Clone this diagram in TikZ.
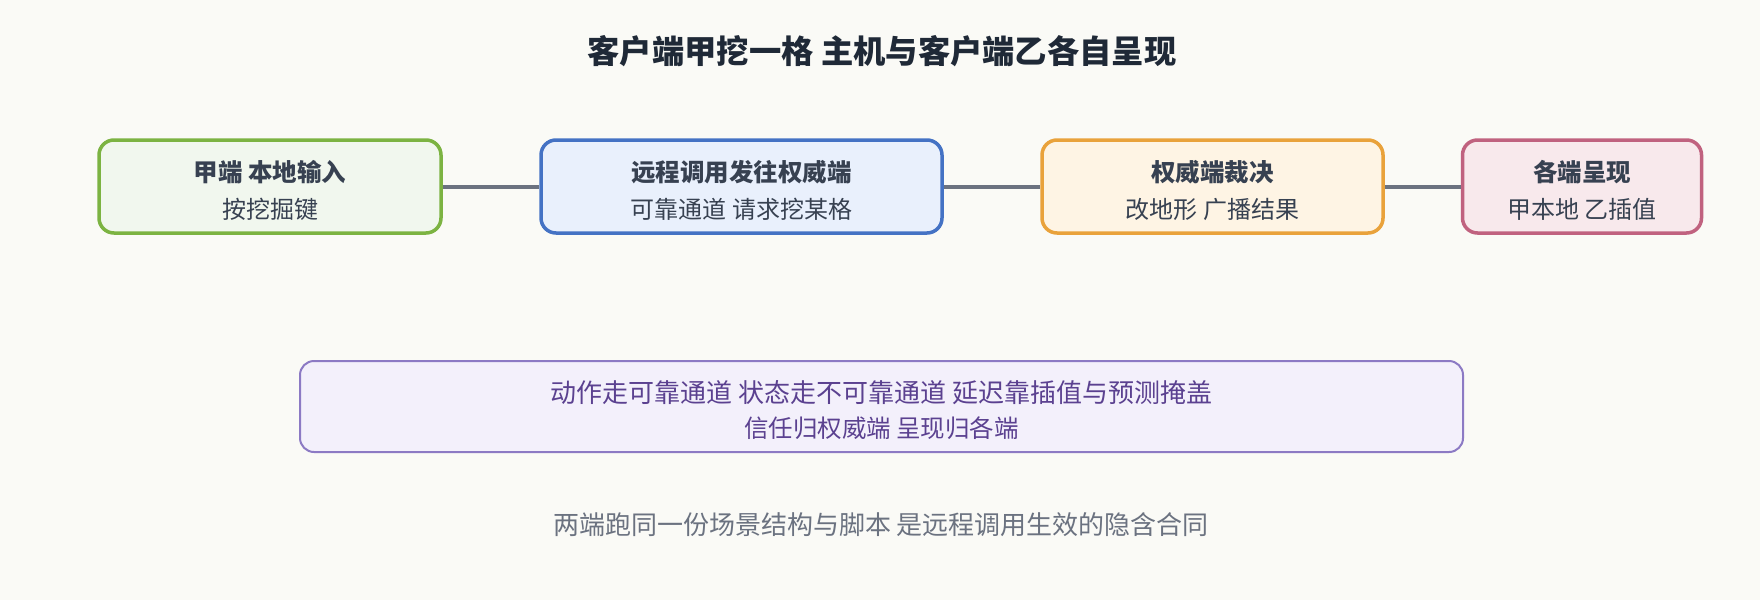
\documentclass[tikz,border=0pt]{standalone}
\usepackage{fontspec}
\setmainfont{Noto Sans CJK SC}
\usetikzlibrary{positioning}

\definecolor{bgpaper}{HTML}{FAFAF6}
\definecolor{inktext}{HTML}{374151}
\definecolor{inktitle}{HTML}{1F2937}
\definecolor{linkgray}{HTML}{6B7280}
\definecolor{greenline}{HTML}{7CB342}
\definecolor{greenfill}{HTML}{F1F7EE}
\definecolor{blueline}{HTML}{4472C4}
\definecolor{bluefill}{HTML}{E9F0FC}
\definecolor{orangeline}{HTML}{E9A23B}
\definecolor{orangefill}{HTML}{FEF4E4}
\definecolor{pinkline}{HTML}{C0627F}
\definecolor{pinkfill}{HTML}{F8E9EC}
\definecolor{purpleline}{HTML}{8C7AC4}
\definecolor{purplefill}{HTML}{F3F0FB}
\definecolor{purpletext}{HTML}{5B4190}

\tikzset{
  stagebox/.style={draw, rounded corners=15pt, line width=3.5pt,
    minimum height=93pt, inner sep=0pt},
  stagetext/.style={text=inktext, align=center, font=\fontsize{24}{37}\selectfont},
  notebox/.style={draw=purpleline, fill=purplefill, rounded corners=14pt, line width=2pt,
    minimum width=1163pt, minimum height=91pt, inner sep=0pt},
  link/.style={draw=linkgray, line width=4pt}
}
\newcommand{\stagehead}[1]{{\fontsize{24.5}{37}\selectfont\bfseries #1}}

\begin{document}
\begin{tikzpicture}[x=1pt,y=-1pt]

  \fill[bgpaper] (0,0) rectangle (1760,600);
  \useasboundingbox (0,0) rectangle (1760,600);

  \node[text=inktitle, font=\fontsize{32.3}{40}\selectfont\bfseries] (title) at (882,51)
    {客户端甲挖一格 主机与客户端乙各自呈现};

  % stages, text nudged down a little inside each box
  \node[stagebox, draw=greenline, fill=greenfill, minimum width=342pt] (input) at (270,186.5) {};
  \node[stagetext] (input-txt) at ([yshift=-3.5pt]input.center)
    {\stagehead{甲端 本地输入}\\按挖掘键};
  \node[stagebox, draw=blueline, fill=bluefill, minimum width=401pt] (rpc) at (741.5,186.5) {};
  \node[stagetext] (rpc-txt) at ([yshift=-3.5pt]rpc.center)
    {\stagehead{远程调用发往权威端}\\可靠通道 请求挖某格};
  \node[stagebox, draw=orangeline, fill=orangefill, minimum width=341pt] (judge) at (1212.5,186.5) {};
  \node[stagetext] (judge-txt) at ([yshift=-3.5pt]judge.center)
    {\stagehead{权威端裁决}\\改地形 广播结果};
  \node[stagebox, draw=pinkline, fill=pinkfill, minimum width=239pt] (show) at (1582,186.5) {};
  \node[stagetext] (show-txt) at ([yshift=-3.5pt]show.center)
    {\stagehead{各端呈现}\\甲本地 乙插值};

  \path[link] (input) -- (rpc)
              (rpc) -- (judge)
              (judge) -- (show);

  \node[notebox] (note) at (881.5,406.5) {};
  \node[text=purpletext, align=center, font=\fontsize{24.5}{35}\selectfont] (note-txt)
    at ([yshift=-4pt]note.center)
    {{\fontsize{26}{35}\selectfont 动作走可靠通道 状态走不可靠通道 延迟靠插值与预测掩盖}\\信任归权威端 呈现归各端};

  \node[text=linkgray, font=\fontsize{26}{32}\selectfont] (contract) at (881,525)
    {两端跑同一份场景结构与脚本 是远程调用生效的隐含合同};

\end{tikzpicture}
\end{document}
